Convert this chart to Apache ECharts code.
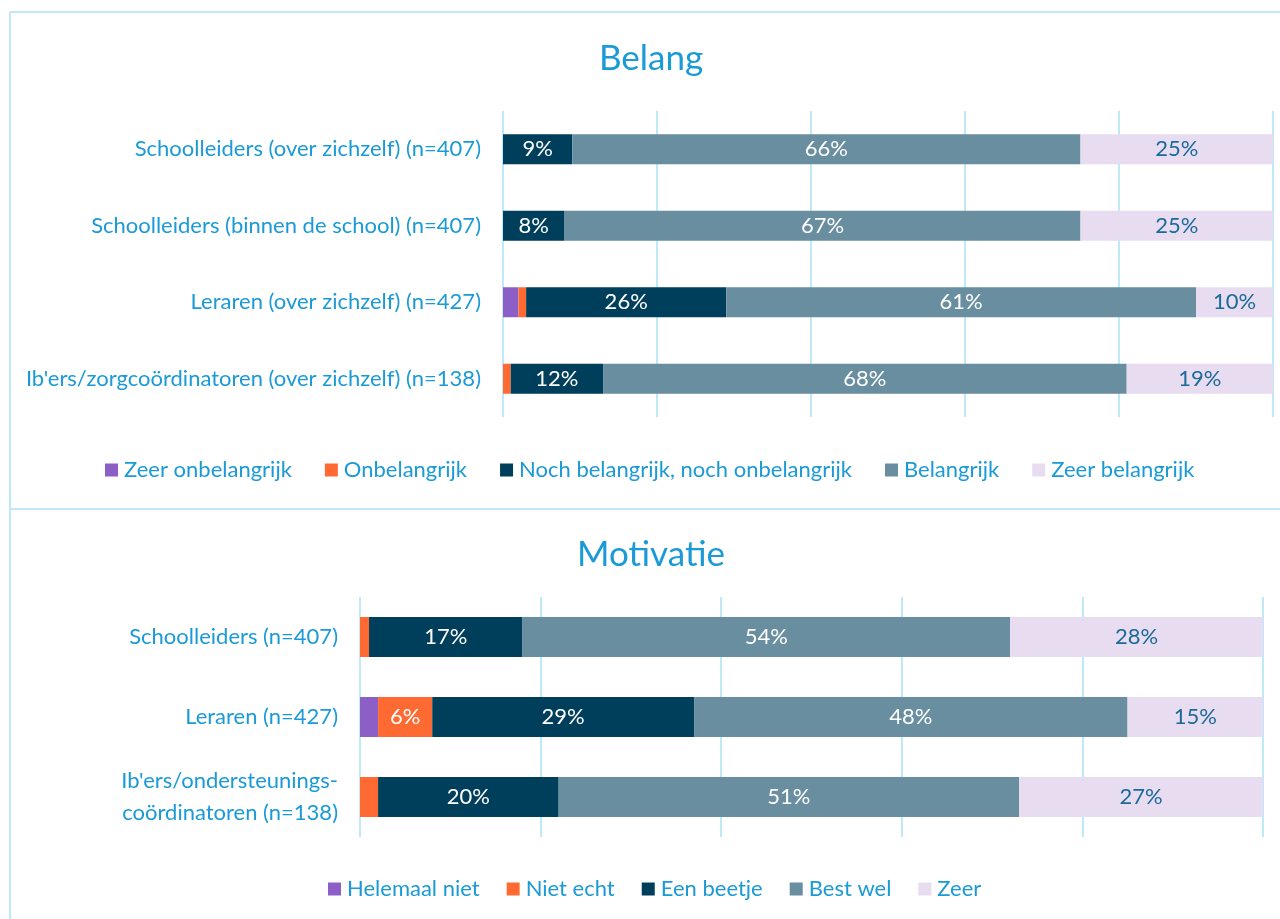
<!DOCTYPE html>
<html>
<head>
<meta charset="utf-8">
<title>Belang en motivatie</title>
<script src="https://cdn.jsdelivr.net/npm/echarts@6/dist/echarts.min.js"></script>
<style>
  html, body { margin: 0; padding: 0; background: #fff; }
  #chart { width: 1280px; height: 919px; }
</style>
</head>
<body>
<div id="chart"></div>
<script>
// categorieën en waarden (percentages)
var belangCats = [
    'Schoolleiders (over zichzelf) (n=407)',
    'Schoolleiders (binnen de school) (n=407)',
    'Leraren (over zichzelf) (n=427)',
    "Ib'ers/zorgcoördinatoren (over zichzelf) (n=138)"
];
var belangNames = ['Zeer onbelangrijk', 'Onbelangrijk', 'Noch belangrijk, noch onbelangrijk', 'Belangrijk', 'Zeer belangrijk'];
var zeerOnbelangrijk = [0, 0, 2, 0];
var onbelangrijk = [0, 0, 1, 1];
var noch = [9, 8, 26, 12];
var belangrijk = [66, 67, 61, 68];
var zeerBelangrijk = [25, 25, 10, 19];

var motivatieCats = [
    'Schoolleiders (n=407)',
    'Leraren (n=427)',
    "Ib'ers/ondersteunings-\ncoördinatoren (n=138)"
];
var motivatieNames = ['Helemaal niet', 'Niet echt', 'Een beetje', 'Best wel', 'Zeer'];
var helemaalNiet = [0, 2, 0];
var nietEcht = [1, 6, 2];
var eenBeetje = [17, 29, 20];
var bestWel = [54, 48, 51];
var zeer = [28, 15, 27];

var kleuren = ['#8c5fc6', '#ff6a33', '#003f5c', '#688ea0', '#e8dcf0'];
var blauw = '#1a9ad6';
var lijn = '#bfe9f8';
var font = 'Lato';

var myChart = echarts.init(document.getElementById('chart'));

function maakSerie(naam, data, idx, as, barW) {
    return {
        name: naam,
        type: 'bar',
        stack: 'tot' + as,
        xAxisIndex: as,
        yAxisIndex: as,
        barWidth: barW,
        data: data,
        itemStyle: { color: kleuren[idx] },
        label: {
            show: true,
            position: 'inside',
            fontFamily: font,
            fontSize: 22,
            color: idx === 4 ? '#1b6a99' : '#ffffff',
            formatter: function (p) { return p.value >= 5 ? p.value + '%' : ''; }
        },
        emphasis: { disabled: true }
    };
}

var belangData = [zeerOnbelangrijk, onbelangrijk, noch, belangrijk, zeerBelangrijk];
var motivatieData = [helemaalNiet, nietEcht, eenBeetje, bestWel, zeer];
var series = [];
belangNames.forEach(function (n, i) { series.push(maakSerie(n, belangData[i], i, 0, 30)); });
motivatieNames.forEach(function (n, i) { series.push(maakSerie(n, motivatieData[i], i, 1, 40)); });

function xAs(idx) {
    return {
        type: 'value', gridIndex: idx, min: 0, max: 100, interval: 20,
        axisLabel: { show: false }, axisLine: { show: false }, axisTick: { show: false },
        splitLine: { show: true, lineStyle: { color: lijn, width: 2 } }
    };
}
function yAs(idx, cats) {
    return {
        type: 'category', gridIndex: idx, data: cats, inverse: true,
        axisLine: { show: false }, axisTick: { show: false },
        axisLabel: { color: blauw, fontFamily: font, fontSize: 22, margin: 22, lineHeight: 32, align: 'right' }
    };
}

var legendText = { color: blauw, fontSize: 22, fontFamily: font, padding: [0, 0, 0, 1] };

var option = {
    animation: false,
    textStyle: { fontFamily: font },
    title: [
        { text: 'Belang', left: 646, top: 36, textAlign: 'center', textStyle: { color: blauw, fontSize: 35, fontWeight: 'normal', fontFamily: font } },
        { text: 'Motivatie', left: 646, top: 532, textAlign: 'center', textStyle: { color: blauw, fontSize: 35, fontWeight: 'normal', fontFamily: font } }
    ],
    legend: [
        {
            data: belangNames, top: 459, left: 105, padding: 0, itemWidth: 13, itemHeight: 13, itemGap: 33,
            icon: 'rect', selectedMode: false, textStyle: legendText
        },
        {
            data: motivatieNames, top: 878, left: 328, padding: 0, itemWidth: 13, itemHeight: 13, itemGap: 27,
            icon: 'rect', selectedMode: false, textStyle: legendText
        }
    ],
    grid: [
        { left: 503, right: 7, top: 111, height: 306 },
        { left: 360, right: 17, top: 597, height: 240 }
    ],
    xAxis: [xAs(0), xAs(1)],
    yAxis: [yAs(0, belangCats), yAs(1, motivatieCats)],
    series: series,
    graphic: [
        { type: 'line', shape: { x1: 10, y1: 12, x2: 1280, y2: 12 }, style: { stroke: lijn, lineWidth: 2 } },
        { type: 'line', shape: { x1: 10, y1: 12, x2: 10, y2: 919 }, style: { stroke: lijn, lineWidth: 2 } },
        { type: 'line', shape: { x1: 10, y1: 509, x2: 1280, y2: 509 }, style: { stroke: lijn, lineWidth: 2 } }
    ]
};
myChart.setOption(option);
</script>
</body>
</html>
